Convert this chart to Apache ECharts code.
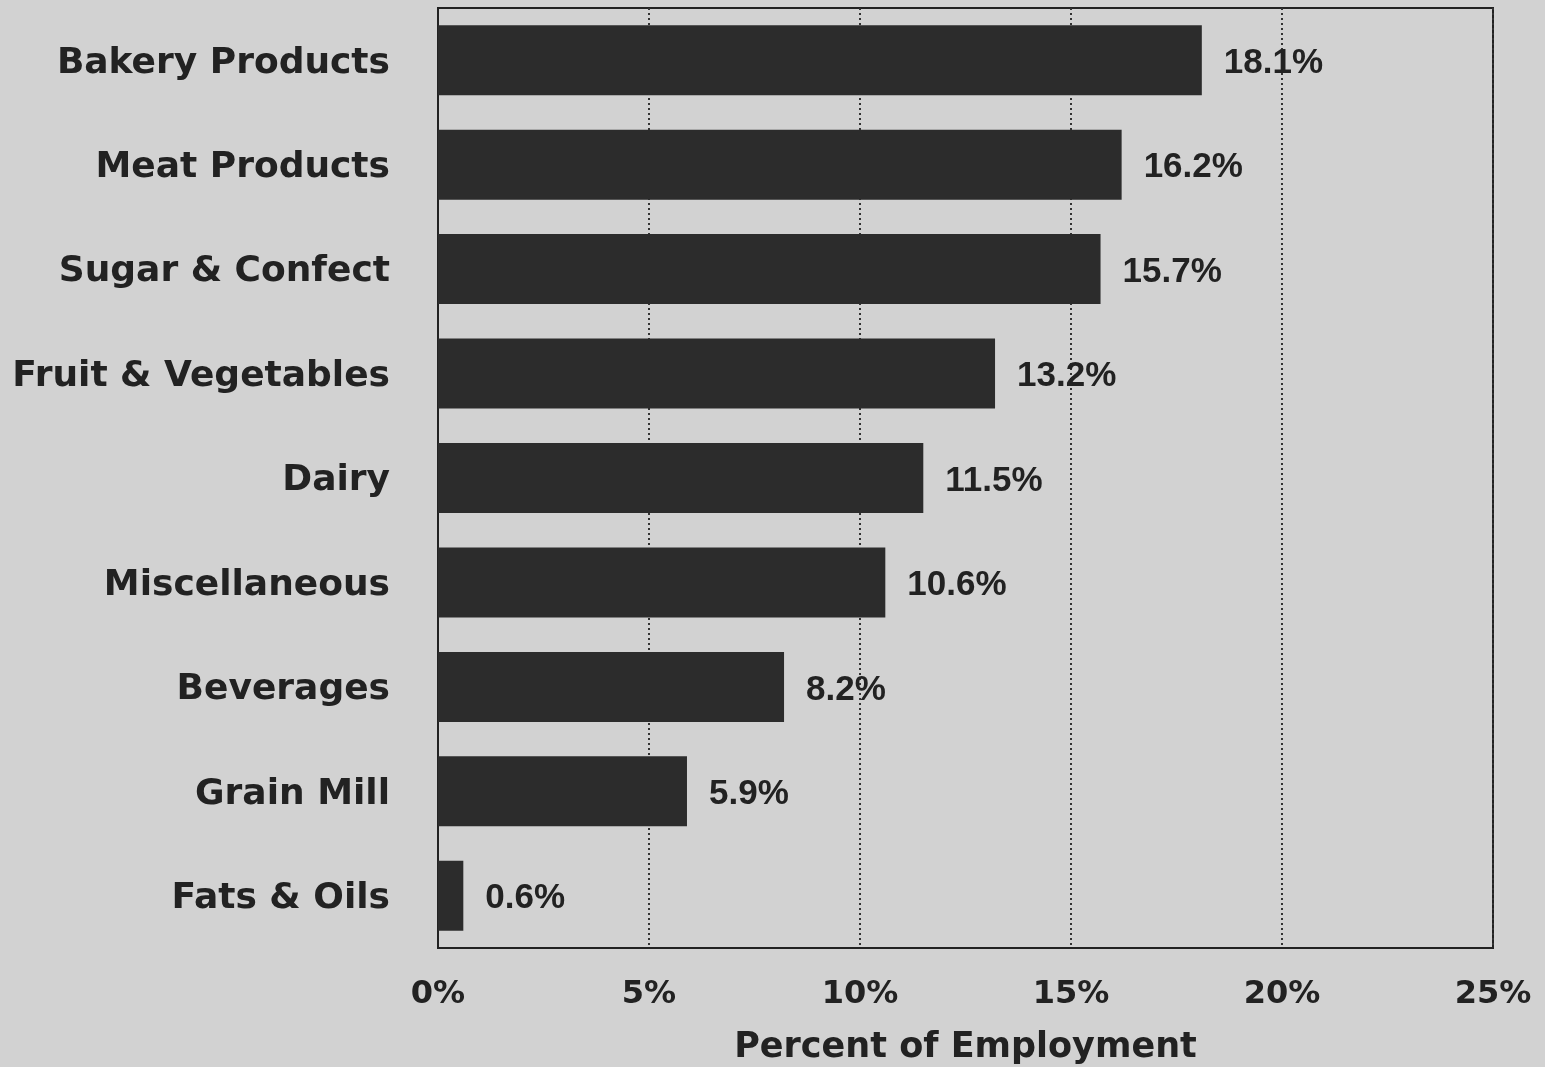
<!DOCTYPE html>
<html><head><meta charset="utf-8">
<style>html,body{margin:0;padding:0;background:#d2d2d2;}#c{width:1545px;height:1067px;}</style>
<script src="https://cdn.jsdelivr.net/npm/echarts@6/dist/echarts.min.js"></script>
</head><body><div id="c"></div>
<script>
const categories = ["Bakery Products","Meat Products","Sugar & Confect","Fruit & Vegetables","Dairy","Miscellaneous","Beverages","Grain Mill","Fats & Oils"];
const values = [18.1,16.2,15.7,13.2,11.5,10.6,8.2,5.9,0.6];
const xTicks = [0,5,10,15,20,25];
const axisTitle = "Percent of Employment";

const chart = echarts.init(document.getElementById('c'), null, {renderer:'canvas'});
chart.setOption({
  backgroundColor:'#d2d2d2',
  animation:false,
  grid:{left:438,right:52,top:8,bottom:119,outerBoundsMode:'none',containLabel:false,show:true,borderColor:'#222',borderWidth:2,backgroundColor:'transparent'},
  xAxis:{type:'value',min:xTicks[0],max:xTicks[xTicks.length-1],interval:5,
    axisLine:{show:true,lineStyle:{color:'#222',width:2}},
    axisTick:{show:false},
    splitLine:{show:true,lineStyle:{color:'#333',type:[2,3],width:2}},
    axisLabel:{formatter:v=>v+'%',color:'#222',fontFamily:'DejaVu Sans',fontWeight:'bold',fontSize:32,margin:31},
    name:axisTitle,nameLocation:'middle',nameGap:82,
    nameTextStyle:{color:'#222',fontFamily:'DejaVu Sans',fontWeight:'bold',fontSize:35}
  },
  yAxis:{type:'category',data:categories,inverse:true,
    axisLine:{show:true,lineStyle:{color:'#222',width:2}},
    axisTick:{show:false},
    axisLabel:{color:'#222',fontFamily:'DejaVu Sans',fontWeight:'bold',fontSize:36,margin:48,verticalAlign:'top',lineHeight:6}
  },
  series:[{type:'bar',data:values,barCategoryGap:'33%',
    itemStyle:{color:'#2c2c2c'},
    label:{show:true,position:'right',distance:22,offset:[0,3],formatter:p=>p.value.toFixed(1)+'%',
      color:'#222',fontFamily:'Liberation Sans',fontWeight:'bold',fontSize:35}
  }]
});
</script></body></html>
